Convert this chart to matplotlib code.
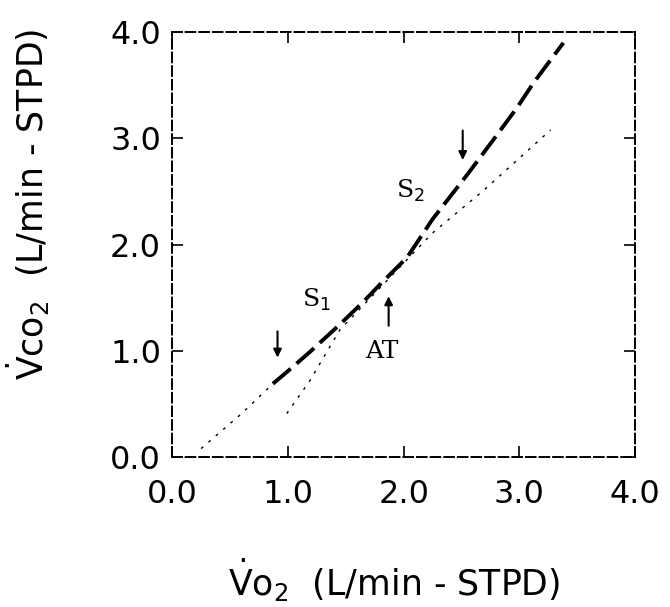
import matplotlib
matplotlib.use('Agg')
import matplotlib.pyplot as plt

# gemessene Werte (VO2 / VCO2, L/min)
vo2 = [0.87, 0.99, 1.19, 1.30, 1.45, 1.65, 1.80, 2.03, 2.25, 2.40, 2.55, 2.77, 2.98, 3.12, 3.27, 3.38]
vco2 = [0.69, 0.80, 0.99, 1.10, 1.25, 1.46, 1.63, 1.88, 2.24, 2.45, 2.66, 2.98, 3.29, 3.52, 3.74, 3.90]

# Verlaengerung S1 bis zum Ursprung
s1_x = [0.25, 0.59, 0.87]
s1_y = [0.08, 0.40, 0.69]

# untere Bezugslinie
ref_x = [0.99, 1.19, 1.45, 2.25, 2.69, 3.27]
ref_y = [0.41, 0.72, 1.20, 2.11, 2.51, 3.08]

# Pfeile: x, Spitze, Ende
arrow_x = [0.91, 1.87, 2.51]
arrow_tip = [0.91, 1.54, 2.77]
arrow_tail = [1.21, 1.21, 3.10]

labels = ['S$_1$', 'S$_2$', 'AT']
label_x = [1.25, 2.06, 1.81]
label_y = [1.48, 2.51, 0.99]

ticks = [0, 1, 2, 3, 4]
tick_labels = ['0.0', '1.0', '2.0', '3.0', '4.0']

fig = plt.figure(figsize=(6.7, 6.07), dpi=100)
ax = fig.add_axes([0.257, 0.247, 0.691, 0.700])

ax.plot(vo2, vco2, color='black', lw=2.8, linestyle=(0, (6, 2)), solid_capstyle='round')
ax.plot(s1_x, s1_y, color='black', lw=1, linestyle=(0, (2, 5)))
ax.plot(ref_x, ref_y, color='black', lw=1, linestyle=(0, (2, 5)))

for x, tip, tail in zip(arrow_x, arrow_tip, arrow_tail):
    ax.annotate('', xy=(x, tip), xytext=(x, tail),
                arrowprops=dict(arrowstyle='-|>', lw=1.5, color='black', mutation_scale=12))

for t, x, y in zip(labels, label_x, label_y):
    ax.text(x, y, t, family='DejaVu Serif', fontsize=18, ha='center', va='center')

ax.set_xlim(0, 4)
ax.set_ylim(0, 4)
ax.set_xticks(ticks)
ax.set_xticklabels(tick_labels)
ax.set_yticks(ticks)
ax.set_yticklabels(tick_labels)
ax.tick_params(direction='in', length=8, width=1.2, labelsize=23,
               top=True, right=True)
ax.tick_params(axis='x', pad=16)
ax.tick_params(axis='y', pad=8)

for s in ax.spines.values():
    s.set_linestyle((0, (5, 2)))
    s.set_linewidth(1.4)

ax.set_xlabel(r'$\dot{\mathrm{V}}$o$_2$  (L/min - STPD)', fontsize=25)
ax.xaxis.set_label_coords(0.48, -0.235)
ax.set_ylabel(r'$\dot{\mathrm{V}}$co$_2$  (L/min - STPD)', fontsize=25)
ax.yaxis.set_label_coords(-0.26, 0.595)

fig.savefig('out.png', dpi=100)
